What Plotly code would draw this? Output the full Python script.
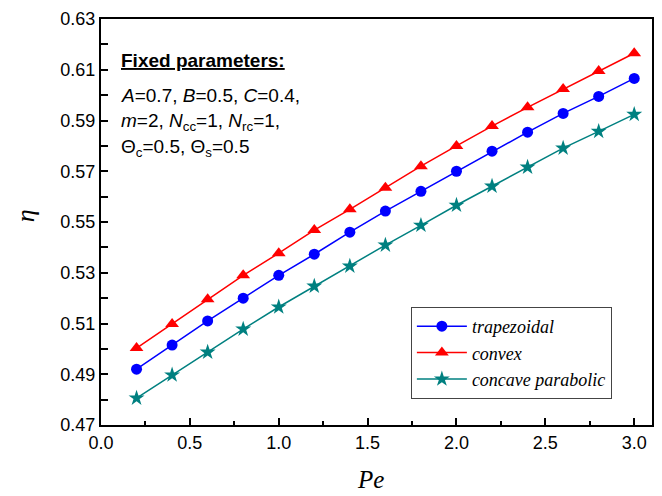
import plotly.graph_objects as go

pe = [0.2, 0.4, 0.6, 0.8, 1.0, 1.2, 1.4, 1.6, 1.8, 2.0, 2.2, 2.4, 2.6, 2.8, 3.0]
trapezoidal = [0.4920, 0.5015, 0.5110, 0.5200, 0.5290, 0.5373, 0.5460, 0.5543, 0.5621,
               0.5700, 0.5779, 0.5854, 0.5928, 0.5995, 0.6066]
convex = [0.5003, 0.5098, 0.5196, 0.5290, 0.5377, 0.5468, 0.5550, 0.5635, 0.5720,
          0.5800, 0.5878, 0.5952, 0.6024, 0.6095, 0.6165]
concave = [0.4806, 0.4897, 0.4987, 0.5078, 0.5165, 0.5247, 0.5326, 0.5409, 0.5487,
           0.5566, 0.5641, 0.5716, 0.5791, 0.5857, 0.5924]

series = [
    ("trapezoidal", trapezoidal, "#0000FF", "circle", 11),
    ("convex", convex, "#FF0000", "triangle-up", 12),
    ("concave parabolic", concave, "#008080", "star", 12),
]

fig = go.Figure()
for name, ys, col, sym, sz in series:
    fig.add_trace(go.Scatter(
        x=pe, y=ys, mode="lines+markers", name="<i>" + name + "</i>",
        line=dict(color=col, width=1.5),
        marker=dict(symbol=sym, size=sz, color=col),
    ))

L, R, T, B = 101, 654, 19, 425
W, H = 662, 496
pw, ph = R - L, B - T

axis_font = dict(family="Liberation Sans, Arial", size=18, color="#000")
serif = "Liberation Serif, Times New Roman, serif"
fig.update_layout(
    width=W, height=H,
    margin=dict(l=L, r=W - R, t=T, b=H - B),
    paper_bgcolor="white", plot_bgcolor="white",
    showlegend=True,
    legend=dict(
        x=(412 - L) / pw, y=(B - 307) / ph, xanchor="left", yanchor="top",
        bgcolor="white", bordercolor="#444", borderwidth=1,
        font=dict(family=serif, size=18, color="#000"),
        itemwidth=50, tracegroupgap=0,
    ),
    xaxis=dict(
        range=[0, 3.1], dtick=0.5, tick0=0, tickformat=".1f",
        ticks="inside", ticklen=7, tickwidth=1.5, tickcolor="#000",
        minor=dict(dtick=0.25, ticks="inside", ticklen=4, tickwidth=1.5, tickcolor="#000"),
        showline=True, linecolor="#000", linewidth=2, mirror=True,
        showgrid=False, zeroline=False, tickfont=axis_font,
    ),
    yaxis=dict(
        range=[0.47, 0.63], dtick=0.02, tick0=0.47, tickformat=".2f",
        ticks="inside", ticklen=7, tickwidth=1.5, tickcolor="#000",
        minor=dict(dtick=0.01, ticks="inside", ticklen=7, tickwidth=1.5, tickcolor="#000"),
        showline=True, linecolor="#000", linewidth=2, mirror=True,
        showgrid=False, zeroline=False, tickfont=axis_font,
    ),
)

# axis titles
fig.add_annotation(text="<i>Pe</i>", xref="paper", yref="paper",
                   x=(371 - L) / pw, y=(B - 479) / ph, xanchor="center", yanchor="middle",
                   showarrow=False, font=dict(family=serif, size=25, color="#000"))
fig.add_annotation(text="<i>η</i>", xref="paper", yref="paper",
                   x=(25 - L) / pw, y=(B - 216) / ph, xanchor="center", yanchor="middle",
                   textangle=-90, showarrow=False, font=dict(family=serif, size=26, color="#000"))

txt_font = dict(family="Liberation Sans, Arial", size=19, color="#000")
lines = [
    ("<b><u>Fixed parameters:</u></b>", 60),
    ("<i>A</i>=0.7, <i>B</i>=0.5, <i>C</i>=0.4,", 95),
    ("<i>m</i>=2, <i>N</i><sub>cc</sub>=1, <i>N</i><sub>rc</sub>=1,", 122),
    ("Θ<sub>c</sub>=0.5, Θ<sub>s</sub>=0.5", 148),
]
for t, ypx in lines:
    fig.add_annotation(
        text=t, xref="paper", yref="paper",
        x=(119 - L) / pw, y=(B - ypx) / ph,
        xanchor="left", yanchor="middle", showarrow=False, font=txt_font,
    )

fig.write_html("out.html")
